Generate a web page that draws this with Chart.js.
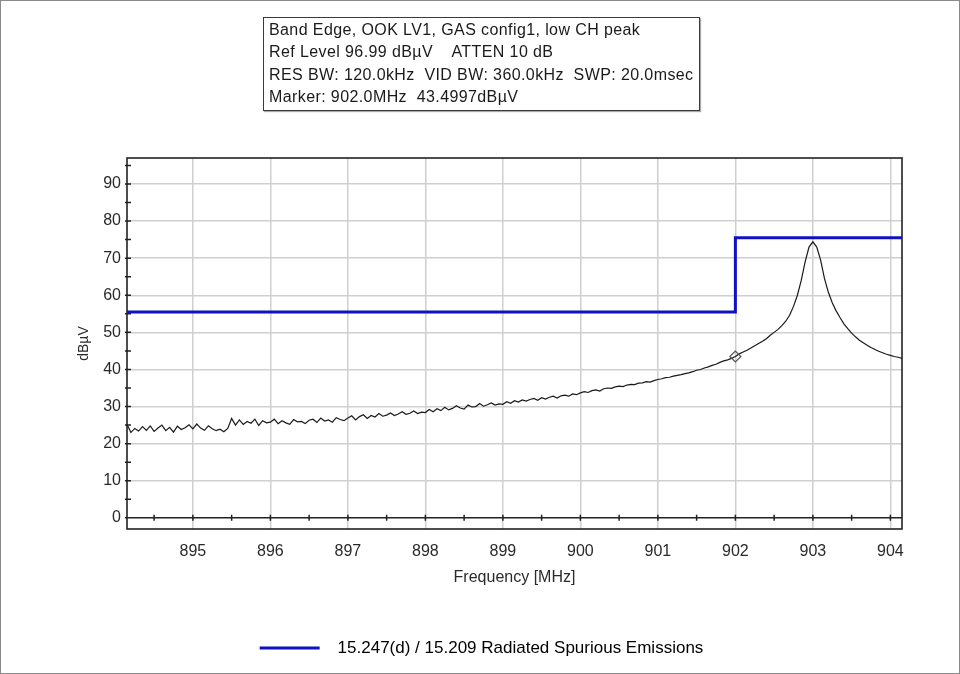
<!DOCTYPE html>
<html>
<head>
<meta charset="utf-8">
<title>Band Edge - low CH peak</title>
<script src="https://cdn.jsdelivr.net/npm/chart.js@4.4.1/dist/chart.umd.min.js"></script>
<style>
  html, body { margin: 0; padding: 0; background: #fff; }
  #wrap { position: relative; width: 960px; height: 674px; }
  #frame { position: absolute; left: 0; top: 0; width: 958px; height: 672px; border: 1px solid #8a8a8a; pointer-events: none; }
  #info {
    position: absolute; left: 263px; top: 17px; width: 430px; height: 91px;
    border: 1.5px solid #3a3a3a; box-shadow: 1px 1px 1px #aaa;
    font: 16px "Liberation Sans", Arial, sans-serif; color: #1a1a1a;
    line-height: 22.4px; padding: 1px 0 0 5px; letter-spacing: 0.4px; white-space: nowrap;
  }
</style>
</head>
<body>
<div id="wrap">
  <canvas id="spectrum" width="960" height="674"></canvas>
  <div id="info">
    Band Edge, OOK LV1, GAS config1, low CH peak<br>
    Ref Level 96.99 dBµV &nbsp;&nbsp; ATTEN 10 dB<br>
    RES BW: 120.0kHz &nbsp;VID BW: 360.0kHz &nbsp;SWP: 20.0msec<br>
    Marker: 902.0MHz &nbsp;43.4997dBµV
  </div>
  <div id="frame"></div>
</div>
<script>
// sweep: 894.15 .. 904.15 MHz, one reading every 0.05 MHz
const traceStartMHz = 894.15;
const traceStepMHz = 0.05;
const traceLevels = [
  // 894.15 - 894.95
  25.2, 23.0, 24.1, 23.4, 24.6, 23.6, 24.8, 23.3, 24.2, 25.0, 23.5, 24.4, 23.1, 24.7, 23.8, 24.3, 25.1,
  // 895.00 - 895.45
  24.0, 25.3, 24.2, 23.6, 24.8, 24.0, 23.5, 23.9, 23.2, 24.1,
  // 895.50 - 895.95
  26.8, 25.0, 26.4, 25.2, 26.0, 25.5, 26.6, 24.9, 26.2, 25.6,
  // 896
  25.8, 26.6, 25.4, 26.2, 25.6, 25.2, 26.5, 25.9, 26.0, 25.4, 26.3, 26.6, 25.7, 26.9, 26.1, 26.4, 25.8, 27.0, 26.5, 26.2,
  // 897
  26.9, 27.5, 26.4, 27.3, 27.8, 26.8, 27.6, 27.2, 28.1, 27.4, 27.7, 28.3, 27.6, 28.0, 28.6, 27.9, 28.2, 28.8, 28.1, 28.5,
  // 898
  28.4, 29.2, 28.6, 29.4, 28.9, 29.8, 29.1, 29.5, 30.2, 29.6, 29.3, 30.4, 29.9, 30.0, 30.8, 30.1, 30.5, 31.0, 30.4, 30.7,
  // 899
  30.6, 31.3, 30.9, 31.6, 31.2, 31.8, 31.5, 31.9, 32.2, 31.7, 32.4, 32.0, 32.5, 32.8, 32.3, 32.9, 33.1, 32.8, 33.4, 33.2,
  // 900
  33.7, 34.0, 33.8, 34.3, 34.5, 34.2, 34.8, 35.0, 34.9, 35.3, 35.5, 35.4, 35.8, 36.0, 35.9, 36.3, 36.4, 36.7, 36.6, 37.0,
  // 901
  37.3, 37.5, 37.8, 37.9, 38.2, 38.4, 38.6, 38.9, 39.1, 39.4, 39.8, 40.0, 40.4, 40.7, 41.1, 41.4, 41.9, 42.3, 42.6, 43.0,
  // 902 - 902.95
  43.5, 44.2, 44.7, 45.2, 45.8, 46.4, 47.0, 47.6, 48.3, 49.2, 50.0, 50.8, 51.8, 53.0, 54.6, 57.0, 60.0, 64.0, 69.0, 73.0,
  // 903 - 903.95
  74.4, 73.0, 69.5, 64.5, 60.8, 58.0, 55.8, 54.0, 52.3, 51.0, 49.8, 48.8, 47.9, 47.2, 46.5, 45.9, 45.4, 44.9, 44.5, 44.1,
  // 904 - 904.15
  43.8, 43.5, 43.3, 43.0
];

const limitLabel = '15.247(d) / 15.209 Radiated Spurious Emissions';
const limitFreqs = [894.15, 902.0, 902.0, 904.15];
const limitLevels = [55.5, 55.5, 75.5, 75.5];

const markerFreqs = [902.0];
const markerLevels = [43.5];

const xTickLabels = [895, 896, 897, 898, 899, 900, 901, 902, 903, 904];
const yTickLabels = [0, 10, 20, 30, 40, 50, 60, 70, 80, 90];
const xMinorTicks = [894.5, 895, 895.5, 896, 896.5, 897, 897.5, 898, 898.5, 899, 899.5, 900,
                     900.5, 901, 901.5, 902, 902.5, 903, 903.5, 904];
const yMinorTicks = [0, 5, 10, 15, 20, 25, 30, 35, 40, 45, 50, 55, 60, 65, 70, 75, 80, 85, 90, 95];

const FONT = '"Liberation Sans", Arial, sans-serif';
const BLUE = '#1010c4';

// frame, black zero line and the little tick marks of the analyzer plot
const framePlugin = {
  id: 'frame',
  beforeDatasetsDraw(chart) {
    const { ctx, chartArea: a, scales: { x, y } } = chart;
    const y0 = y.getPixelForValue(0);
    ctx.save();
    ctx.strokeStyle = '#222';
    ctx.lineWidth = 1.5;
    ctx.beginPath();
    ctx.moveTo(a.left, y0);
    ctx.lineTo(a.right, y0);
    xMinorTicks.forEach(f => {
      const px = x.getPixelForValue(f);
      ctx.moveTo(px, y0 - 3);
      ctx.lineTo(px, y0 + 3);
    });
    yMinorTicks.forEach(v => {
      const py = y.getPixelForValue(v);
      ctx.moveTo(a.left - 2, py);
      ctx.lineTo(a.left + 4, py);
    });
    ctx.stroke();
    ctx.lineWidth = 1.6;
    ctx.strokeRect(a.left, a.top, a.width, a.height);
    ctx.restore();
  }
};

new Chart(document.getElementById('spectrum'), {
  type: 'line',
  data: {
    datasets: [
      {
        label: limitLabel,
        data: limitFreqs.map((f, i) => ({ x: f, y: limitLevels[i] })),
        borderColor: BLUE,
        backgroundColor: BLUE,
        borderWidth: 3,
        pointRadius: 0,
        tension: 0,
        order: 3
      },
      {
        label: 'Trace',
        data: traceLevels.map((v, i) => ({ x: traceStartMHz + i * traceStepMHz, y: v })),
        borderColor: '#1a1a1a',
        borderWidth: 1.2,
        pointRadius: 0,
        tension: 0,
        order: 2
      },
      {
        label: 'Marker',
        data: markerFreqs.map((f, i) => ({ x: f, y: markerLevels[i] })),
        showLine: false,
        pointStyle: 'rectRot',
        pointRadius: 5.5,
        borderColor: '#555',
        borderWidth: 1.2,
        backgroundColor: 'rgba(255,255,255,0)',
        order: 1
      }
    ]
  },
  options: {
    responsive: false,
    animation: false,
    events: [],
    layout: { padding: { top: 158, right: 58, bottom: 7.5, left: 61 } },
    scales: {
      x: {
        type: 'linear',
        min: 894.15,
        max: 904.15,
        afterBuildTicks: s => { s.ticks = xTickLabels.map(v => ({ value: v })); },
        afterFit: s => { s.height = 100.5; },
        grid: { color: '#cfcfcf', lineWidth: 1.5, drawTicks: false },
        border: { display: false },
        ticks: {
          padding: 13, maxRotation: 0, autoSkip: false, color: '#2a2a2a',
          font: { family: FONT, size: 16 },
          callback: v => String(v)
        },
        title: {
          display: true, text: 'Frequency [MHz]', color: '#2a2a2a',
          font: { family: FONT, size: 16 },
          padding: { top: 0, bottom: 42.5 }
        }
      },
      y: {
        min: -3,
        max: 97,
        afterBuildTicks: s => { s.ticks = yTickLabels.map(v => ({ value: v })); },
        afterFit: s => { s.width = 66; },
        grid: {
          color: ctx => (ctx.tick && ctx.tick.value === 0 ? 'rgba(0,0,0,0)' : '#cfcfcf'),
          lineWidth: 1.5, drawTicks: false
        },
        border: { display: false },
        ticks: {
          padding: 6, color: '#2a2a2a',
          font: { family: FONT, size: 16 },
          callback: v => String(v)
        },
        title: {
          display: true, text: 'dBµV', color: '#2a2a2a',
          font: { family: FONT, size: 14 },
          padding: { top: 15, bottom: 0 }
        }
      }
    },
    plugins: {
      tooltip: { enabled: false },
      legend: {
        position: 'bottom',
        labels: {
          boxWidth: 60,
          boxHeight: 3,
          padding: 10,
          color: '#222',
          font: { family: FONT, size: 17 },
          generateLabels: chart => [{
            text: '  ' + chart.data.datasets[0].label,
            fillStyle: BLUE,
            strokeStyle: BLUE,
            lineWidth: 0,
            hidden: false,
            datasetIndex: 0
          }]
        }
      }
    }
  },
  plugins: [framePlugin]
});
</script>
</body>
</html>
